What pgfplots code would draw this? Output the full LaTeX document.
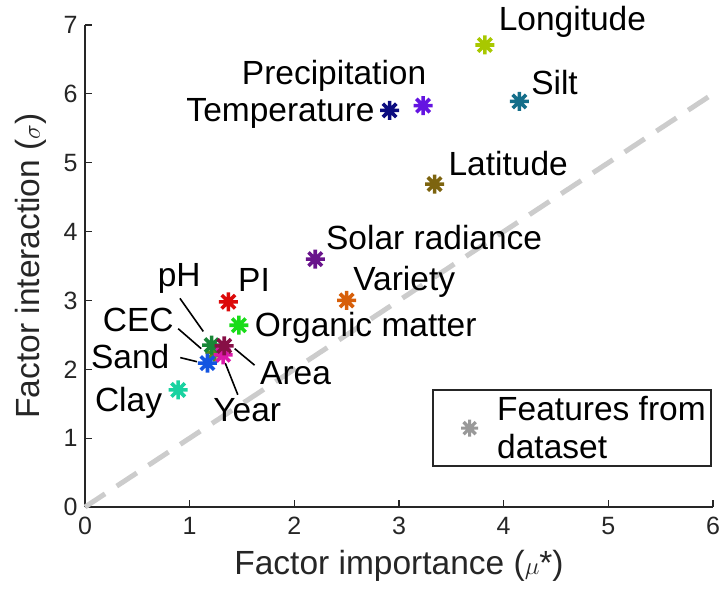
\documentclass[border=0pt]{standalone}
\usepackage{pgfplots}
\pgfplotsset{compat=1.18}
\usepackage{fontspec}
\setmainfont{Liberation Sans}
\pgfdeclareplotmark{ast8}{%
  \pgfpathmoveto{\pgfqpoint{-\pgfplotmarksize}{0pt}}%
  \pgfpathlineto{\pgfqpoint{\pgfplotmarksize}{0pt}}%
  \pgfpathmoveto{\pgfqpoint{0pt}{-\pgfplotmarksize}}%
  \pgfpathlineto{\pgfqpoint{0pt}{\pgfplotmarksize}}%
  \pgfpathmoveto{\pgfqpoint{-0.7071\pgfplotmarksize}{-0.7071\pgfplotmarksize}}%
  \pgfpathlineto{\pgfqpoint{0.7071\pgfplotmarksize}{0.7071\pgfplotmarksize}}%
  \pgfpathmoveto{\pgfqpoint{-0.7071\pgfplotmarksize}{0.7071\pgfplotmarksize}}%
  \pgfpathlineto{\pgfqpoint{0.7071\pgfplotmarksize}{-0.7071\pgfplotmarksize}}%
  \pgfusepathqstroke}
\definecolor{cLon}{RGB}{168,200,0}
\definecolor{cSilt}{RGB}{20,110,138}
\definecolor{cPrec}{RGB}{100,20,225}
\definecolor{cTemp}{RGB}{12,12,128}
\definecolor{cLat}{RGB}{125,100,15}
\definecolor{cSol}{RGB}{105,20,140}
\definecolor{cVar}{RGB}{215,95,10}
\definecolor{cPI}{RGB}{220,10,10}
\definecolor{cOM}{RGB}{25,220,25}
\definecolor{cpH}{RGB}{25,135,55}
\definecolor{cCEC}{RGB}{90,140,20}
\definecolor{cArea}{RGB}{135,15,70}
\definecolor{cYear}{RGB}{220,25,170}
\definecolor{cSand}{RGB}{20,85,225}
\definecolor{cClay}{RGB}{25,210,160}
\definecolor{axgray}{RGB}{38,38,38}
\pgfplotsset{pt/.style={only marks, mark=ast8, mark size=9.5pt, line width=3.6pt, forget plot, color=#1, mark options={solid}}}
\begin{document}
\begin{tikzpicture}
\useasboundingbox (-85pt,-83pt) rectangle (635pt,507pt);
\begin{axis}[
  scale only axis, width=628pt, height=482pt,
  xmin=0, xmax=6, ymin=0, ymax=7,
  xtick={0,...,6}, ytick={0,...,7},
  axis lines*=left,
  axis line style={axgray, line width=1.2pt},
  tick style={axgray, line width=1.2pt},
  tick align=inside,
  major tick length=7pt,
  tick label style={font=\fontsize{25}{28}\selectfont, color=axgray},
  xticklabel style={yshift=-7pt},
  yticklabel style={xshift=-4pt},
  /pgf/number format/assume math mode=true,
  label style={font=\fontsize{33.5}{38}\selectfont, color=axgray},
  xlabel={Factor importance ($\mu$*)},
  ylabel={Factor interaction ($\sigma$)},
  xlabel style={yshift=-8pt},
  ylabel style={yshift=10pt},
  clip=false,
  legend style={at={(rel axis cs:0.998,0.083)}, anchor=south east,
    draw=axgray, line width=2pt, font=\fontsize{33.5}{35}\selectfont,
    text=axgray, align=left, inner xsep=3pt, inner ysep=4pt},
  legend cell align=left,
  legend image code/.code={\path (0pt,0pt) (56pt,0pt); \draw[#1] plot coordinates {(32pt,0pt)};},
  nodes={font=\fontsize{33.5}{38}\selectfont, text=black},
]
\addplot[color=black!20, line width=5pt, dash pattern=on 24pt off 14pt, forget plot] coordinates {(0,0) (6,6)};
\addlegendimage{only marks, mark=ast8, mark size=8.5pt, line width=3.2pt, color=black!40}
\addlegendentry{Features from\\dataset}
% leader lines
\draw[black, line width=1.6pt] (axis cs:0.907,3.03) -- (axis cs:1.13,2.55);
\draw[black, line width=1.6pt] (axis cs:0.89,2.59) -- (axis cs:1.11,2.30);
\draw[black, line width=1.6pt] (axis cs:0.91,2.17) -- (axis cs:1.07,2.11);
\draw[black, line width=1.6pt] (axis cs:1.46,1.63) -- (axis cs:1.34,2.09);
\draw[black, line width=1.6pt] (axis cs:1.62,2.06) -- (axis cs:1.43,2.30);
\addplot[pt=cLon] coordinates {(3.82,6.71)};
\addplot[pt=cSilt] coordinates {(4.15,5.89)};
\addplot[pt=cPrec] coordinates {(3.23,5.83)};
\addplot[pt=cTemp] coordinates {(2.91,5.76)};
\addplot[pt=cLat] coordinates {(3.34,4.69)};
\addplot[pt=cSol] coordinates {(2.20,3.60)};
\addplot[pt=cVar] coordinates {(2.50,3.00)};
\addplot[pt=cPI] coordinates {(1.37,2.98)};
\addplot[pt=cOM] coordinates {(1.47,2.64)};
\addplot[pt=cCEC] coordinates {(1.24,2.25)};
\addplot[pt=cpH] coordinates {(1.21,2.35)};
\addplot[pt=cYear] coordinates {(1.32,2.21)};
\addplot[pt=cArea] coordinates {(1.33,2.34)};
\addplot[pt=cSand] coordinates {(1.17,2.09)};
\addplot[pt=cClay] coordinates {(0.89,1.70)};
% labels
\node[anchor=west] at (axis cs:3.92,7.04) {Longitude};
\node[anchor=west] at (axis cs:4.23,6.17) {Silt};
\node[anchor=center] at (axis cs:2.38,6.26) {Precipitation};
\node[anchor=east] at (axis cs:2.80,5.72) {Temperature};
\node[anchor=west] at (axis cs:3.44,4.99) {Latitude};
\node[anchor=west] at (axis cs:2.27,3.92) {Solar radiance};
\node[anchor=west] at (axis cs:2.53,3.27) {Variety};
\node[anchor=west] at (axis cs:1.43,3.29) {PI};
\node[anchor=west] at (axis cs:1.59,2.60) {Organic matter};
\node[anchor=center] at (axis cs:0.90,3.32) {pH};
\node[anchor=east] at (axis cs:0.88,2.71) {CEC};
\node[anchor=east] at (axis cs:0.84,2.19) {Sand};
\node[anchor=east] at (axis cs:0.77,1.52) {Clay};
\node[anchor=center] at (axis cs:1.55,1.41) {Year};
\node[anchor=west] at (axis cs:1.64,1.94) {Area};
\end{axis}
\end{tikzpicture}
\end{document}
